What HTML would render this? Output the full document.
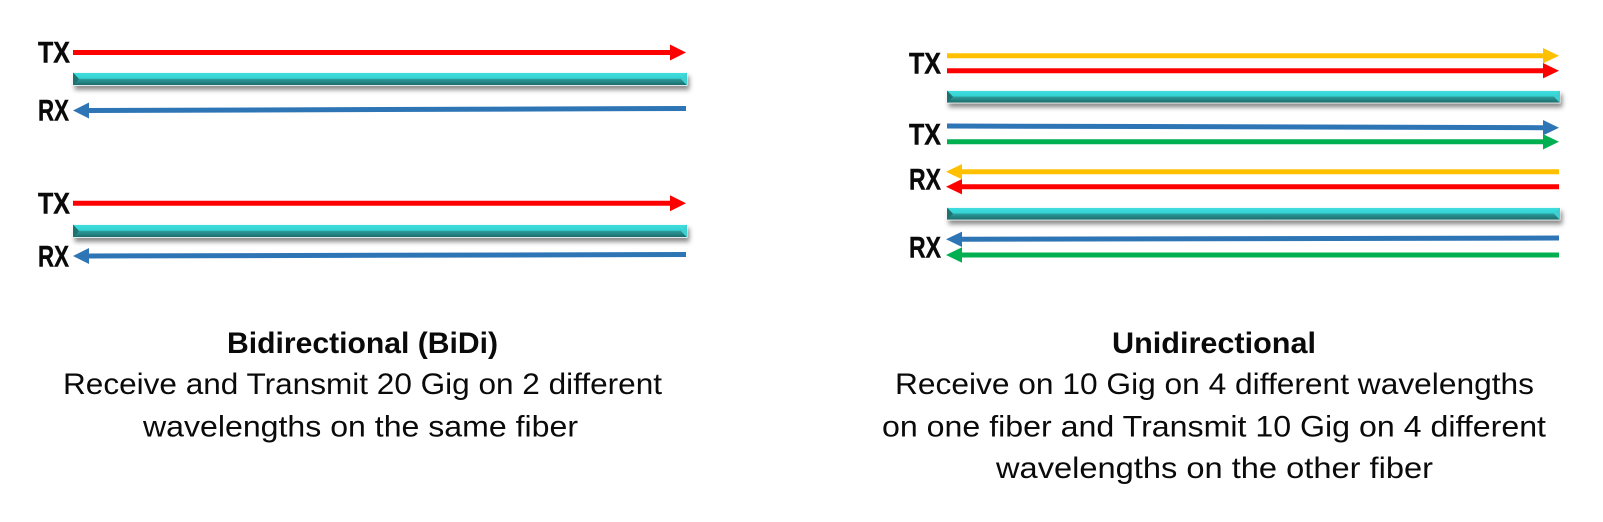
<!DOCTYPE html>
<html>
<head>
<meta charset="utf-8">
<style>
  html, body { margin: 0; padding: 0; background: #ffffff; }
  body { width: 1603px; height: 522px; overflow: hidden; }
  svg { display: block; }
  .lbl { font-family: "Liberation Sans", Arial, sans-serif; font-weight: bold; font-size: 30px; fill: #0a0a0a; stroke: #0a0a0a; stroke-width: 0.4px; }
  .ttl { font-family: "Liberation Sans", Arial, sans-serif; font-weight: bold; font-size: 30px; fill: #0a0a0a; }
  .cap { font-family: "Liberation Sans", Arial, sans-serif; font-size: 30px; fill: #0a0a0a; }
</style>
</head>
<body>
<svg width="1603" height="522" viewBox="0 0 1603 522" xmlns="http://www.w3.org/2000/svg">
  <defs>
    <linearGradient id="fib" x1="0" y1="0" x2="0" y2="1">
      <stop offset="0" stop-color="#40dede"/>
      <stop offset="0.45" stop-color="#34d3d3"/>
      <stop offset="0.52" stop-color="#2b9a9a"/>
      <stop offset="1" stop-color="#1c6767"/>
    </linearGradient>
    <filter id="sh" x="-5%" y="-100%" width="110%" height="400%">
      <feDropShadow dx="2" dy="4" stdDeviation="2.5" flood-color="#000" flood-opacity="0.45"/>
    </filter>
  </defs>

  <!-- ===== LEFT PANEL ===== -->
  <g filter="url(#sh)">
    <rect x="73" y="72.5" width="614" height="13" fill="url(#fib)" stroke="#ffffff" stroke-width="0.8"/>
  </g>
  <polygon points="73,72.5 79,79 73,85.5" fill="#1f7070"/>
  <polygon points="687,72.5 681,79 687,85.5" fill="#3fcfcf"/>

  <g filter="url(#sh)">
    <rect x="73" y="224.5" width="614" height="13" fill="url(#fib)" stroke="#ffffff" stroke-width="0.8"/>
  </g>
  <polygon points="73,224.5 79,231 73,237.5" fill="#1f7070"/>
  <polygon points="687,224.5 681,231 687,237.5" fill="#3fcfcf"/>

  <line x1="73" y1="52.5" x2="672" y2="52.5" stroke="#ff0000" stroke-width="5"/>
  <polygon points="670,44.5 686,52.5 670,60.5" fill="#ff0000"/>
  <line x1="87" y1="110.5" x2="686" y2="108.5" stroke="#2e75b6" stroke-width="5"/>
  <polygon points="73,110.5 89,102.5 89,118.5" fill="#2e75b6"/>
  <line x1="73" y1="203.3" x2="672" y2="203.3" stroke="#ff0000" stroke-width="5"/>
  <polygon points="670,195.3 686,203.3 670,211.3" fill="#ff0000"/>
  <line x1="87" y1="256" x2="686" y2="254.5" stroke="#2e75b6" stroke-width="5"/>
  <polygon points="73,256 89,248 89,264" fill="#2e75b6"/>

  <text class="lbl" x="38" y="62.5" textLength="32" lengthAdjust="spacingAndGlyphs">TX</text>
  <text class="lbl" x="38" y="120.5" textLength="31" lengthAdjust="spacingAndGlyphs">RX</text>
  <text class="lbl" x="38" y="213.5" textLength="32" lengthAdjust="spacingAndGlyphs">TX</text>
  <text class="lbl" x="38" y="266.5" textLength="31" lengthAdjust="spacingAndGlyphs">RX</text>

  <!-- ===== RIGHT PANEL ===== -->
  <g filter="url(#sh)">
    <rect x="947" y="90.5" width="613" height="12.5" fill="url(#fib)" stroke="#ffffff" stroke-width="0.8"/>
  </g>
  <polygon points="947,90.5 953,96.75 947,103" fill="#1f7070"/>
  <polygon points="1560,90.5 1554,96.75 1560,103" fill="#3fcfcf"/>
  <g filter="url(#sh)">
    <rect x="947" y="207.5" width="613" height="12.5" fill="url(#fib)" stroke="#ffffff" stroke-width="0.8"/>
  </g>
  <polygon points="947,207.5 953,213.75 947,220" fill="#1f7070"/>
  <polygon points="1560,207.5 1554,213.75 1560,220" fill="#3fcfcf"/>

  <line x1="947" y1="55.7" x2="1546" y2="55.7" stroke="#ffc000" stroke-width="5"/>
  <polygon points="1543,48 1559,55.7 1543,63.4" fill="#ffc000"/>
  <line x1="947" y1="70.7" x2="1546" y2="70.7" stroke="#ff0000" stroke-width="5"/>
  <polygon points="1543,63 1559,70.7 1543,78.4" fill="#ff0000"/>

  <line x1="947" y1="126" x2="1546" y2="127.7" stroke="#2e75b6" stroke-width="5"/>
  <polygon points="1543,120 1559,127.7 1543,135.4" fill="#2e75b6"/>
  <line x1="947" y1="141.8" x2="1546" y2="141.8" stroke="#00b050" stroke-width="5"/>
  <polygon points="1543,134.1 1559,141.8 1543,149.5" fill="#00b050"/>

  <line x1="960" y1="171.7" x2="1559" y2="171.7" stroke="#ffc000" stroke-width="5"/>
  <polygon points="946,171.7 962,164 962,179.4" fill="#ffc000"/>
  <line x1="960" y1="186.7" x2="1559" y2="186.7" stroke="#ff0000" stroke-width="5"/>
  <polygon points="946,186.7 962,179 962,194.4" fill="#ff0000"/>

  <line x1="960" y1="239.3" x2="1559" y2="238" stroke="#2e75b6" stroke-width="5"/>
  <polygon points="946,239.3 962,231.6 962,247" fill="#2e75b6"/>
  <line x1="960" y1="255" x2="1559" y2="255" stroke="#00b050" stroke-width="5"/>
  <polygon points="946,255 962,247.3 962,262.7" fill="#00b050"/>

  <text class="lbl" x="909" y="73.5" textLength="32" lengthAdjust="spacingAndGlyphs">TX</text>
  <text class="lbl" x="909" y="144.5" textLength="32" lengthAdjust="spacingAndGlyphs">TX</text>
  <text class="lbl" x="909" y="189.5" textLength="32" lengthAdjust="spacingAndGlyphs">RX</text>
  <text class="lbl" x="909" y="257.5" textLength="32" lengthAdjust="spacingAndGlyphs">RX</text>

  <!-- ===== CAPTIONS ===== -->
  <text class="ttl" x="227" y="353" textLength="271" lengthAdjust="spacingAndGlyphs">Bidirectional (BiDi)</text>
  <text class="cap" x="63" y="394" textLength="599" lengthAdjust="spacingAndGlyphs">Receive and Transmit 20 Gig on 2 different</text>
  <text class="cap" x="143" y="436.5" textLength="435" lengthAdjust="spacingAndGlyphs">wavelengths on the same fiber</text>

  <text class="ttl" x="1112" y="353" textLength="204" lengthAdjust="spacingAndGlyphs">Unidirectional</text>
  <text class="cap" x="895" y="394" textLength="639" lengthAdjust="spacingAndGlyphs">Receive on 10 Gig on 4 different wavelengths</text>
  <text class="cap" x="882" y="436.5" textLength="664" lengthAdjust="spacingAndGlyphs">on one fiber and Transmit 10 Gig on 4 different</text>
  <text class="cap" x="996" y="478" textLength="437" lengthAdjust="spacingAndGlyphs">wavelengths on the other fiber</text>
</svg>
</body>
</html>
